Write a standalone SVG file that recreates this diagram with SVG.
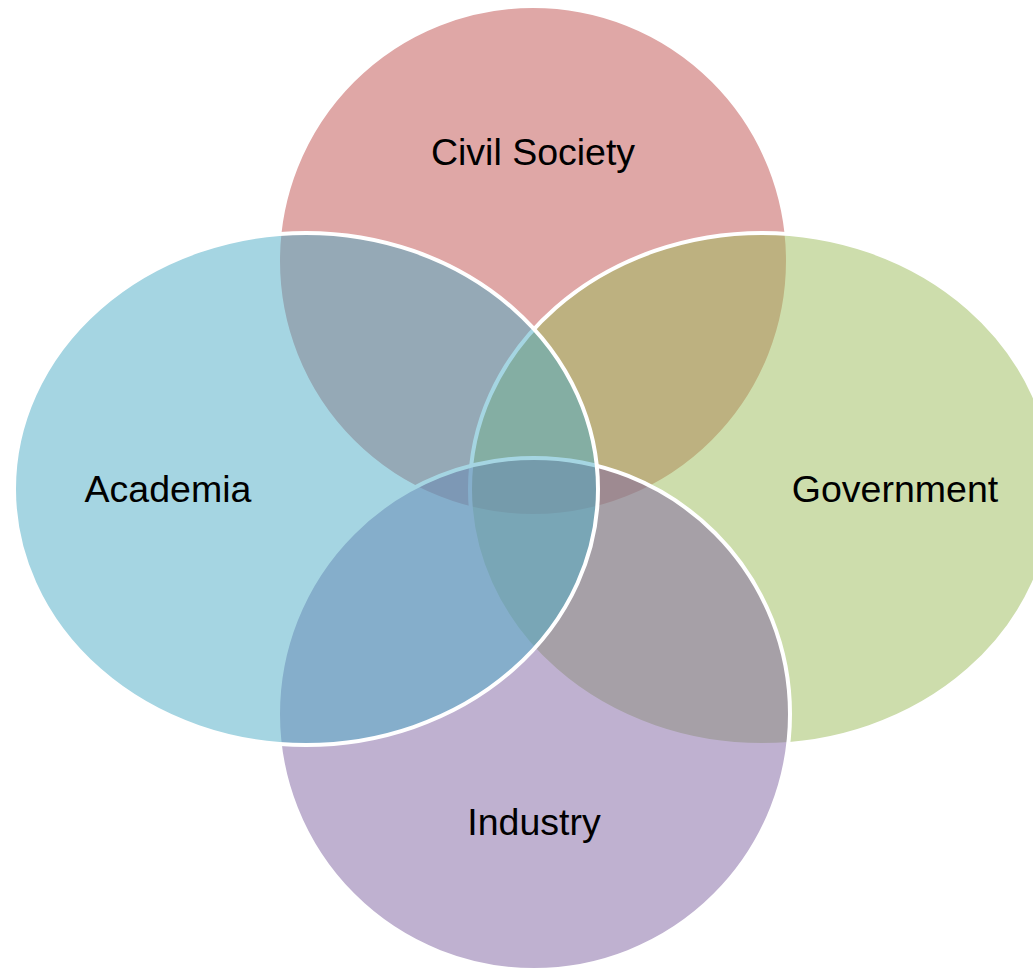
<svg xmlns="http://www.w3.org/2000/svg" width="1033" height="970" viewBox="0 0 1033 970">
<style>
.shape{fill-opacity:0.5;stroke:#FFFFFF;stroke-width:4}
.lbl{font-family:"Liberation Sans",Arial,sans-serif;font-size:37.5px;fill:#000000;text-anchor:middle}
</style>
<rect width="1033" height="970" fill="#FFFFFF"/>
<g id="civil-society">
<ellipse class="shape" cx="533" cy="261" rx="255" ry="255" fill="#C0504D"/>
<text class="lbl" x="533" y="165">Civil Society</text>
</g>
<g id="government">
<ellipse class="shape" cx="762" cy="489" rx="292" ry="256" fill="#9BBB59"/>
<text class="lbl" x="895" y="502">Government</text>
</g>
<g id="industry">
<ellipse class="shape" cx="534" cy="714" rx="256" ry="256" fill="#8064A2"/>
<text class="lbl" x="534" y="835">Industry</text>
</g>
<g id="academia">
<ellipse class="shape" cx="306" cy="489" rx="292" ry="256" fill="#4BACC6"/>
<text class="lbl" x="168" y="502">Academia</text>
</g>
<g id="connectors"></g>
</svg>
